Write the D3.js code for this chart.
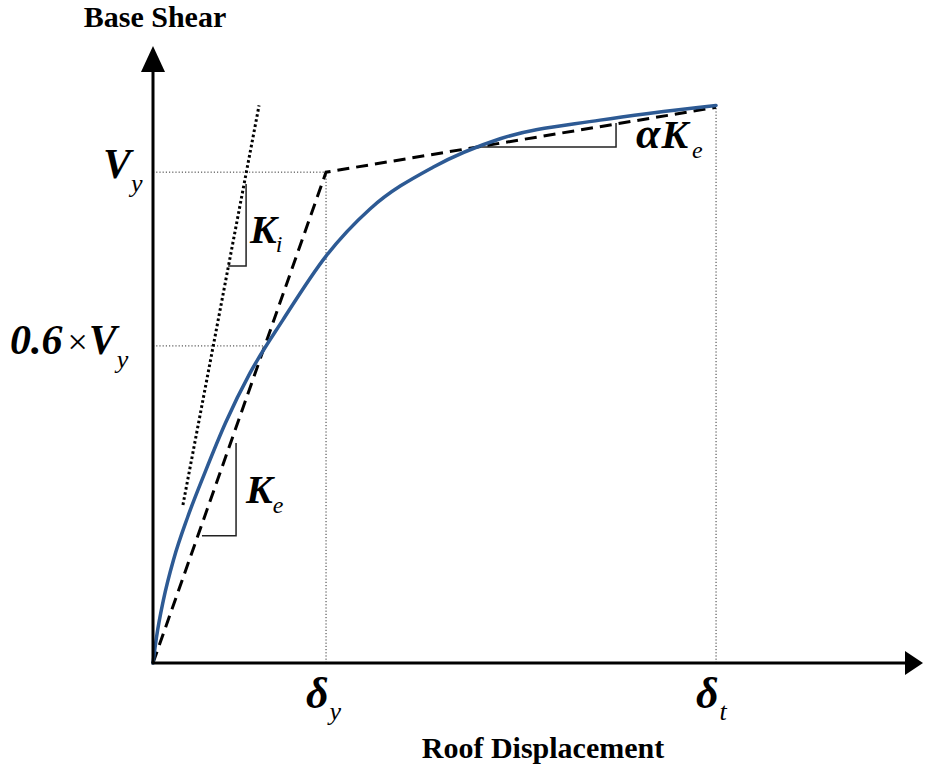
<!DOCTYPE html>
<html>
<head>
<meta charset="utf-8">
<script src="https://cdn.jsdelivr.net/npm/d3@7/dist/d3.min.js"></script>
<style>
  html, body { margin: 0; padding: 0; background: #fff; }
  svg { display: block; }
  text { font-family: "Liberation Serif", "Times New Roman", serif; fill: #000; }
</style>
</head>
<body>
<svg id="chart" width="925" height="767"></svg>
<script>
// Pushover capacity curve (normalised: displacement / δy, shear / Vy)
const capacityDisp  = [0, 0.02, 0.06, 0.12, 0.20, 0.30, 0.42, 0.561, 0.751, 1.000,
                       1.254, 1.618, 2.006, 2.584, 3.254];
const capacityShear = [0, 0.052, 0.128, 0.212, 0.297, 0.388, 0.490, 0.591, 0.699, 0.829,
                       0.925, 1.010, 1.068, 1.106, 1.136];

// Idealised bilinear curve: origin -> yield point -> target point
const bilinearDisp  = [0, 1.0, 3.254];
const bilinearShear = [0, 1.0, 1.132];

// Initial stiffness line Ki
const initialDisp  = [0.173, 0.613];
const initialShear = [0.322, 1.136];

// Reference levels on the axes
const shearLevels = [1.0, 0.646];          // Vy, 0.6×Vy
const dispLevels  = [1.0, 3.254];          // δy, δt
const shearLevelEnds = [1.0, 0.647];       // where each horizontal guide stops
const dispLevelTops  = [1.0, 1.132];       // where each vertical guide stops

// Slope triangles: [run start, run end, rise end] for Ki, Ke, αKe
const triDisp  = [[0.434, 0.538, 0.538], [0.283, 0.480, 0.480], [1.890, 2.676, 2.676]];
const triShear = [[0.809, 0.809, 0.976], [0.259, 0.259, 0.448], [1.051, 1.051, 1.100]];

const axisMax = { disp: 4.45, shear: 1.257 };

const svg = d3.select("#chart");
const x = d3.scaleLinear().domain([0, axisMax.disp]).range([153, 923]);
const y = d3.scaleLinear().domain([0, axisMax.shear]).range([663, 46]);

const line = d3.line().x(d => x(d[0])).y(d => y(d[1]));

// thin dotted guides
const guides = svg.append("g")
  .attr("stroke", "#333").attr("stroke-width", 1).attr("stroke-dasharray", "1.2,2").attr("fill", "none");
shearLevels.forEach((v, i) => {
  guides.append("path").attr("d", line([[0, v], [shearLevelEnds[i], v]]));
});
dispLevels.forEach((v, i) => {
  guides.append("path").attr("d", line([[v, 0], [v, dispLevelTops[i]]]));
});

// slope triangles
const tri = svg.append("g").attr("stroke", "#222").attr("stroke-width", 1.5).attr("fill", "none");
triDisp.forEach((xs, i) => {
  tri.append("path").attr("d", line(xs.map((xv, j) => [xv, triShear[i][j]])));
});

// Ki dotted line
svg.append("path")
  .attr("d", line(initialDisp.map((d, i) => [d, initialShear[i]])))
  .attr("fill", "none").attr("stroke", "#000").attr("stroke-width", 3)
  .attr("stroke-dasharray", "2.6,2.6");

// bilinear dashed line
svg.append("path")
  .attr("d", line(bilinearDisp.map((d, i) => [d, bilinearShear[i]])))
  .attr("fill", "none").attr("stroke", "#000").attr("stroke-width", 3)
  .attr("stroke-dasharray", "12,7").attr("stroke-linejoin", "miter");

// capacity curve
svg.append("path")
  .attr("d", d3.line().x(d => x(d[0])).y(d => y(d[1])).curve(d3.curveMonotoneX)
    (capacityDisp.map((d, i) => [d, capacityShear[i]])))
  .attr("fill", "none").attr("stroke", "#2d5a94").attr("stroke-width", 3.5)
  .attr("stroke-linecap", "round");

// axes with arrow heads
const axes = svg.append("g");
axes.append("line").attr("x1", x(0)).attr("y1", y(0)).attr("x2", x(0)).attr("y2", y(axisMax.shear) + 20)
  .attr("stroke", "#000").attr("stroke-width", 3);
axes.append("line").attr("x1", x(0) - 1.5).attr("y1", y(0)).attr("x2", x(axisMax.disp) - 18).attr("y2", y(0))
  .attr("stroke", "#000").attr("stroke-width", 3);
axes.append("path")
  .attr("d", `M${x(0)},${y(axisMax.shear)} L${x(0) - 12},${y(axisMax.shear) + 26} L${x(0) + 12},${y(axisMax.shear) + 26} Z`)
  .attr("fill", "#000");
axes.append("path")
  .attr("d", `M${x(axisMax.disp)},${y(0)} L${x(axisMax.disp) - 18},${y(0) - 12} L${x(axisMax.disp) - 18},${y(0) + 12} Z`)
  .attr("fill", "#000");

// axis titles
svg.append("text").attr("x", 155).attr("y", 27).attr("text-anchor", "middle")
  .attr("font-weight", "bold").attr("font-size", 30).text("Base Shear");
svg.append("text").attr("x", 543).attr("y", 758).attr("text-anchor", "middle")
  .attr("font-weight", "bold").attr("font-size", 30).text("Roof Displacement");

// helper: main symbol + subscript
function symbol(g, parts) {
  const t = g.append("text");
  parts.forEach(p => {
    const s = t.append("tspan").text(p.t)
      .attr("font-size", p.size)
      .attr("font-style", p.italic ? "italic" : "normal")
      .attr("font-weight", p.bold ? "bold" : "normal");
    if (p.dy) s.attr("dy", p.dy);
    if (p.dx) s.attr("dx", p.dx);
  });
  return t;
}

// shear level labels
symbol(svg, [
  { t: "V", size: 42, italic: true, bold: true },
  { t: "y", size: 26, italic: true, bold: false, dy: 14, dx: 0 }
]).attr("x", x(0) - 50).attr("y", y(shearLevels[0]) + 6);

symbol(svg, [
  { t: "0.6", size: 42, italic: true, bold: true },
  { t: "\u00d7", size: 36, bold: false, dx: 5 },
  { t: "V", size: 42, italic: true, bold: true, dx: 1 },
  { t: "y", size: 26, italic: true, bold: false, dy: 14, dx: 0 }
]).attr("x", 10).attr("y", y(shearLevels[1]) + 8);

// displacement labels
[["y"], ["t"]].forEach((sub, i) => {
  symbol(svg, [
    { t: "\u03b4", size: 44, italic: true, bold: true },
    { t: sub[0], size: 26, italic: true, bold: false, dy: 12, dx: 1 }
  ]).attr("x", x(dispLevels[i]) - 20).attr("y", y(0) + 45);
});

// stiffness labels next to the slope triangles
symbol(svg, [
  { t: "K", size: 40, italic: true, bold: true },
  { t: "i", size: 24, italic: true, bold: false, dy: 9, dx: -1 }
]).attr("x", x(triDisp[0][2]) + 4).attr("y", y(triShear[0][0]) - 23);

symbol(svg, [
  { t: "K", size: 40, italic: true, bold: true },
  { t: "e", size: 24, italic: true, bold: false, dy: 10, dx: 0 }
]).attr("x", x(triDisp[1][2]) + 10).attr("y", y(triShear[1][0]) - 33);

symbol(svg, [
  { t: "\u03b1", size: 44, italic: true, bold: true },
  { t: "K", size: 40, italic: true, bold: true, dx: 1 },
  { t: "e", size: 24, italic: true, bold: false, dy: 10, dx: 4 }
]).attr("x", x(triDisp[2][2]) + 20).attr("y", y(triShear[2][0]) + 1);
</script>
</body>
</html>
